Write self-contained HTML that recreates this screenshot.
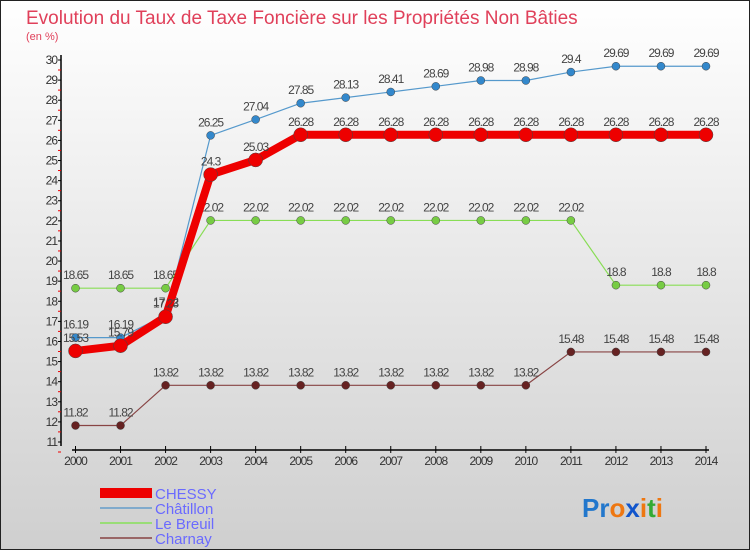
<!DOCTYPE html>
<html><head><meta charset="utf-8"><style>
body{margin:0;}
#wrap{position:relative;width:750px;height:550px;overflow:hidden;font-family:"Liberation Sans",sans-serif;}
</style></head><body>
<div id="wrap">
<svg id="svg" width="750" height="550" viewBox="0 0 750 550" xmlns="http://www.w3.org/2000/svg">
<defs><linearGradient id="bg" x1="0" y1="0" x2="0" y2="1"><stop offset="0" stop-color="#ffffff"/><stop offset="1" stop-color="#cfcfcf"/></linearGradient></defs>
<rect x="0.5" y="0.5" width="749" height="549" fill="url(#bg)" stroke="#222"/>
<text x="26" y="24" font-size="19" fill="#e0405a">Evolution du Taux de Taxe Foncière sur les Propriétés Non Bâties</text>
<text x="26" y="40" font-size="11" fill="#e0405a">(en %)</text>
<g id="axes"></g><g id="series"></g>
<g>
<rect x="100" y="488" width="52" height="10" fill="#e00"/>
<text x="155" y="499" font-size="15" fill="#6a6aff">CHESSY</text>
<line x1="100" y1="508" x2="152" y2="508" stroke="#80aacc" stroke-width="2"/>
<text x="155" y="514" font-size="15" fill="#6a6aff">Châtillon</text>
<line x1="100" y1="523" x2="152" y2="523" stroke="#99dd77" stroke-width="2"/>
<text x="155" y="529" font-size="15" fill="#6a6aff">Le Breuil</text>
<line x1="100" y1="538" x2="152" y2="538" stroke="#996666" stroke-width="2"/>
<text x="155" y="544" font-size="15" fill="#6a6aff">Charnay</text>
</g>
<text x="582" y="517" font-size="26" font-weight="bold"><tspan fill="#2277cc">Pr</tspan><tspan fill="#ee7711">o</tspan><tspan fill="#1155cc">x</tspan><tspan fill="#ee7711">i</tspan><tspan fill="#33aa33">t</tspan><tspan fill="#ee7711">i</tspan></text>
</svg></div>
<script>
const years=[2000,2001,2002,2003,2004,2005,2006,2007,2008,2009,2010,2011,2012,2013,2014];
const chessy=[15.53,15.79,17.23,24.3,25.03,26.28,26.28,26.28,26.28,26.28,26.28,26.28,26.28,26.28,26.28];
const chatillon=[16.19,16.19,17.32,26.25,27.04,27.85,28.13,28.41,28.69,28.98,28.98,29.4,29.69,29.69,29.69];
const leBreuil=[18.65,18.65,18.65,22.02,22.02,22.02,22.02,22.02,22.02,22.02,22.02,22.02,18.8,18.8,18.8];
const charnay=[11.82,11.82,13.82,13.82,13.82,13.82,13.82,13.82,13.82,13.82,13.82,15.48,15.48,15.48,15.48];
const yTicks=[11,12,13,14,15,16,17,18,19,20,21,22,23,24,25,26,27,28,29,30];
const NS="http://www.w3.org/2000/svg";
const xs=i=>75.5+i*(706-75.5)/(years.length-1);
const ys=v=>442-(v-11)*(442-60)/19;
function mk(tag,attrs,parent,txt){const e=document.createElementNS(NS,tag);for(const k in attrs)e.setAttribute(k,attrs[k]);if(txt!==undefined)e.textContent=txt;parent.appendChild(e);return e;}
const ax=document.getElementById('axes');
let l=mk('line',{x1:61,y1:55,x2:61,y2:446,stroke:'#000','stroke-width':1.5},ax);


l=mk('line',{x1:72,y1:450,x2:709,y2:450,stroke:'#000','stroke-width':1.5},ax);


yTicks.forEach(v=>{
 const y=ys(v);
 mk('line',{x1:58,y1:y,x2:61,y2:y,stroke:'#000'},ax);
 mk('line',{x1:58,y1:y+10,x2:61,y2:y+10,stroke:'#e00'},ax);
 const t=mk('text',{x:57,y:y+4,'font-size':12,fill:'#333','text-anchor':'end','letter-spacing':'-1'},ax,String(v));
 
 
});
years.forEach((yr,i)=>{
 const x=xs(i);
 mk('line',{x1:x,y1:446,x2:x,y2:453,stroke:'#000'},ax);
 const t=mk('text',{x:x,y:465,'font-size':12,fill:'#333','text-anchor':'middle','letter-spacing':'-1'},ax,String(yr));
 
 
});
const sg=document.getElementById('series');
function draw(vals,color,w,r,name,fillPt){
 const g=mk('g',{},sg);
 
 
 const p=mk('polyline',{points:vals.map((v,i)=>xs(i)+','+ys(v)).join(' '),fill:'none',stroke:color,'stroke-width':w,'stroke-linejoin':'round'},g);
 
 
 vals.forEach((v,i)=>{
  const c=mk('circle',{cx:xs(i),cy:ys(v),r:r,fill:fillPt,stroke:'#444','stroke-width':0.5},g);
  
  
  const t=mk('text',{x:xs(i),y:ys(v)-9,'font-size':12,fill:'#444','text-anchor':'middle','letter-spacing':'-1'},g,String(v));
  
  
 });
}
draw(charnay,'#884444',1.2,4,'charnay','#662222');
draw(leBreuil,'#88dd55',1.2,4,'le-breuil','#77cc44');
draw(chatillon,'#5599cc',1.2,4,'chatillon','#3388cc');
draw(chessy,'#ee0000',8,7,'chessy','#ee0000');
</script>
</body></html>
